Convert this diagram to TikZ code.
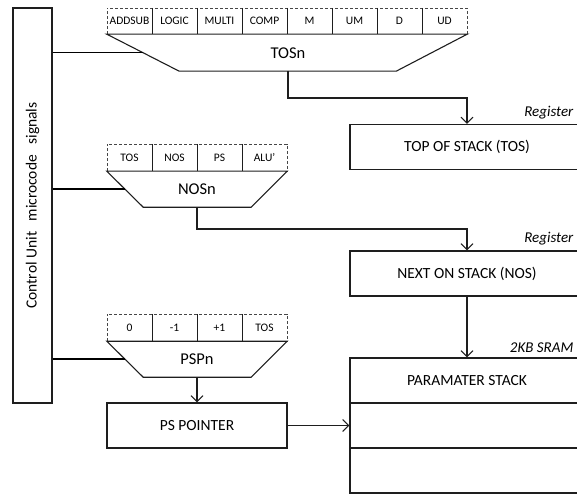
\documentclass[tikz,border=0pt]{standalone}
\usepackage{fontspec}
\setmainfont{Carlito}
\usepackage{tikz}
\usetikzlibrary{arrows.meta, positioning, calc}
\definecolor{mydark}{RGB}{30,30,30}
\definecolor{mygrey}{RGB}{70,70,70}
\tikzset{
  block/.style={rectangle, draw=mydark, line width=1.1pt,
    minimum width=234pt, minimum height=45pt, inner sep=0pt,
    font=\fontsize{15.5}{17}\selectfont},
  smallblock/.style={block, minimum width=180pt},
  ctrlbox/.style={rectangle, draw=mydark, line width=1.1pt,
    minimum width=395pt, minimum height=39pt, inner sep=0pt,
    rotate=90, font=\fontsize{15.5}{17}\selectfont},
  cell/.style={rectangle, minimum width=45pt, minimum height=26pt,
    inner sep=0pt, font=\fontsize{11.5}{13}\selectfont},
  bar/.style={densely dashed, line width=0.4pt, color=mygrey},
  divider/.style={line width=0.5pt, color=mydark},
  mux/.style={line width=1.1pt, color=mydark},
  muxlabel/.style={font=\fontsize{16.5}{18}\selectfont},
  tag/.style={font=\itshape\fontsize{15}{17}\selectfont, inner sep=0pt},
  arrow/.style={-{Straight Barb[length=6pt, width=12pt]}, line width=1.1pt, color=mydark},
  line/.style={line width=1.1pt, color=mydark},
  ctrlline/.style={line width=1.8pt, color=black}
}
\begin{document}
\begin{tikzpicture}[x=1pt, y=-1pt]
  \useasboundingbox (0,0) rectangle (577,494);
  \clip (0,0) rectangle (577,494);

  % Control unit
  \node[ctrlbox] (ctrl) at (32.5,205.5) {Control Unit\hspace{7pt} microcode\hspace{7pt} signals};

  % TOSn multiplexer
  \foreach \lbl [count=\i] in {ADDSUB,LOGIC,MULTI,COMP,M,UM,D,UD}
    \node[cell] (tos\i) at ({84.5+45*\i},21) {\lbl};
  \draw[bar] (tos1.south west) |- (tos8.north east) -- (tos8.south east);
  \foreach \i in {1,...,7}
    \draw[divider] (tos\i.north east) -- (tos\i.south east);
  \draw[mux] (tos1.south west) -- (tos8.south east) -- ++(-71,37) -- ++(-217,0) -- cycle;
  \node[muxlabel] (tosn) at (288,53) {TOSn};
  \coordinate (tosin) at (143,52.5);
  \coordinate (tosout) at (288,71);

  % NOSn multiplexer
  \foreach \lbl [count=\i] in {TOS,NOS,PS,ALU’}
    \node[cell, minimum height=27pt] (nos\i) at ({84.5+45*\i},157.5) {\lbl};
  \draw[bar] (nos1.south west) |- (nos4.north east) -- (nos4.south east);
  \foreach \i in {1,...,3}
    \draw[divider] (nos\i.north east) -- (nos\i.south east);
  \draw[mux] (nos1.south west) -- (nos4.south east) -- ++(-36,36) -- ++(-108,0) -- cycle;
  \node[muxlabel] (nosn) at (197,189) {NOSn};
  \coordinate (nosin) at (125,189);
  \coordinate (nosout) at (197,207);

  % PSPn multiplexer
  \foreach \lbl [count=\i] in {0,-1,+1,TOS}
    \node[cell, minimum height=27pt] (psp\i) at ({84.5+45*\i},327.5) {\lbl};
  \draw[bar] (psp1.south west) |- (psp4.north east) -- (psp4.south east);
  \foreach \i in {1,...,3}
    \draw[divider] (psp\i.north east) -- (psp\i.south east);
  \draw[mux] (psp1.south west) -- (psp4.south east) -- ++(-36,36) -- ++(-108,0) -- cycle;
  \node[muxlabel] (pspn) at (197,359) {PSPn};
  \coordinate (pspin) at (125,359);
  \coordinate (pspout) at (197,377);

  % Registers and memory
  \node[block] (tosbox) at (467,147) {TOP OF STACK (TOS)};
  \node[block] (nosbox) at (467,273.5) {NEXT ON STACK (NOS)};
  \node[block] (stack1) at (467,380.5) {PARAMATER STACK};
  \node[block] (stack2) at (467,425.5) {};
  \node[block] (stack3) at (467,470.5) {};
  \node[smallblock] (pspbox) at (197,425.5) {PS POINTER};

  \node[tag, above left=5pt and 11pt of tosbox.north east] (tostag) {Register};
  \node[tag, above left=5pt and 11pt of nosbox.north east] (nostag) {Register};
  \node[tag, above left=5pt and 11pt of stack1.north east] (sramtag) {2KB SRAM};

  % Control signals
  \draw[ctrlline] (ctrl.south |- tosin) -- (tosin);
  \draw[ctrlline] (ctrl.south |- nosin) -- (nosin);
  \draw[ctrlline] (ctrl.south |- pspin) -- (pspin);

  % Data paths
  \draw[arrow] (tosout) -- ++(0,27) -| (tosbox.north);
  \draw[arrow] (nosout) -- ++(0,22) -| (nosbox.north);
  \draw[arrow] (nosbox.south) -- (stack1.north);
  \draw[arrow] (pspout) -- (pspbox.north);
  \draw[arrow] (pspbox.east) -- (stack2.west);
\end{tikzpicture}
\end{document}
